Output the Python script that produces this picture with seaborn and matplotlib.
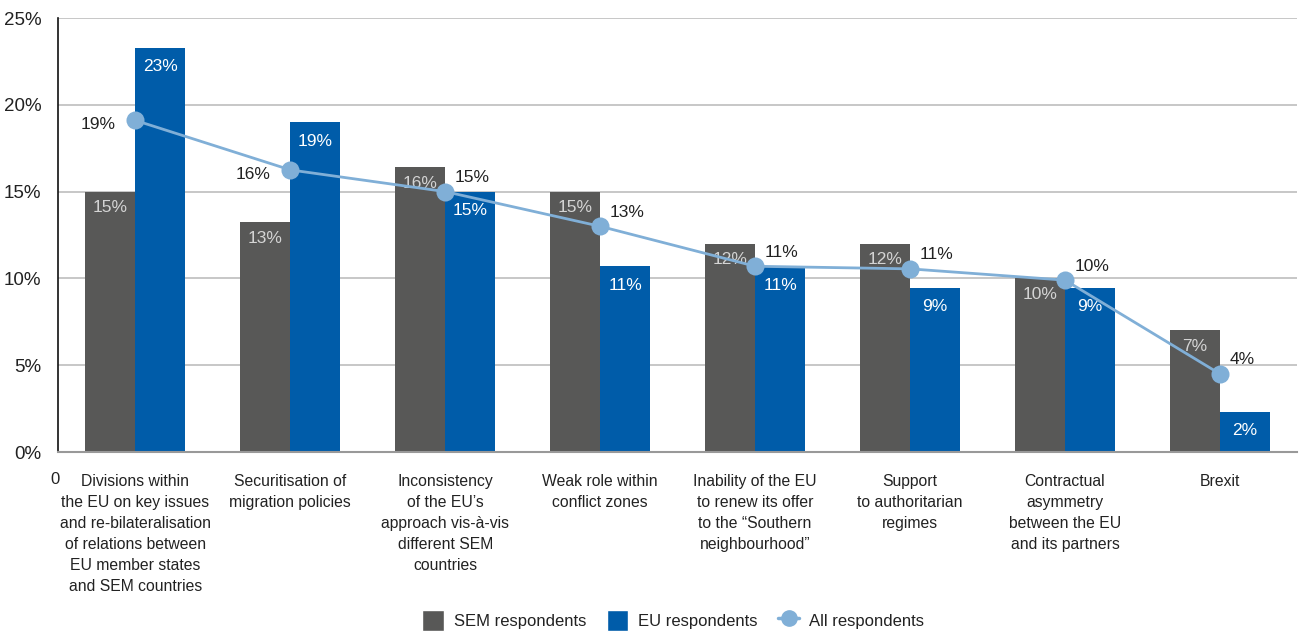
import numpy as np
import pandas as pd
import matplotlib.pyplot as plt
import seaborn as sns
from matplotlib.patches import Patch
from matplotlib.lines import Line2D

# data
categories = [
    "Divisions within\nthe EU on key issues\nand re-bilateralisation\nof relations between\nEU member states\nand SEM countries",
    "Securitisation of\nmigration policies",
    "Inconsistency\nof the EU\u2019s\napproach vis-\u00e0-vis\ndifferent SEM\ncountries",
    "Weak role within\nconflict zones",
    "Inability of the EU\nto renew its offer\nto the \u201cSouthern\nneighbourhood\u201d",
    "Support\nto authoritarian\nregimes",
    "Contractual\nasymmetry\nbetween the EU\nand its partners",
    "Brexit",
]
sem_values = [15.0, 13.25, 16.4, 15.0, 12.0, 12.0, 10.0, 7.0]
eu_values = [23.3, 19.0, 15.0, 10.7, 10.7, 9.45, 9.45, 2.3]
all_values = [19.1, 16.25, 15.0, 13.0, 10.7, 10.55, 9.9, 4.5]
sem_labels = ["15%", "13%", "16%", "15%", "12%", "12%", "10%", "7%"]
eu_labels = ["23%", "19%", "15%", "11%", "11%", "9%", "9%", "2%"]
all_labels = ["19%", "16%", "15%", "13%", "11%", "11%", "10%", "4%"]
y_ticks = [0, 5, 10, 15, 20, 25]

SEM_COLOR = "#585857"
EU_COLOR = "#005ca9"
ALL_COLOR = "#80afd7"
TEXT = "#222222"
FONT = ["Liberation Sans", "DejaVu Sans"]

sns.set_style("white")
plt.rcParams["font.family"] = FONT

df = pd.DataFrame({
    "cat": categories * 2,
    "value": sem_values + eu_values,
    "group": ["SEM respondents"] * 8 + ["EU respondents"] * 8,
})

fig = plt.figure(figsize=(13, 6.32), dpi=100)
ax = fig.add_axes([0.0446, 0.2848, 0.9534, 0.6867])

sns.barplot(data=df, x="cat", y="value", hue="group",
            palette=[SEM_COLOR, EU_COLOR], width=0.645, gap=0,
            saturation=1, legend=False, ax=ax, zorder=2, linewidth=0)

# bar value labels inside the top of each bar
ax.bar_label(ax.containers[0], labels=sem_labels, padding=-17,
             color="#d4d4d4", fontsize=12.5)
ax.bar_label(ax.containers[1], labels=eu_labels, padding=-19,
             color="white", fontsize=12.5)

# all respondents line
xs = np.arange(len(categories))
sns.lineplot(x=xs, y=all_values, color=ALL_COLOR, linewidth=2,
             marker="o", markersize=13, markeredgewidth=0, ax=ax, zorder=4)
for i, (v, lab) in enumerate(zip(all_values, all_labels)):
    if i < 2:
        ax.annotate(lab, (i, v), xytext=(-14, -3), textcoords="offset points",
                    ha="right", va="center", fontsize=12.5, color=TEXT, zorder=5)
    else:
        ax.annotate(lab, (i, v), xytext=(7, 10), textcoords="offset points",
                    ha="left", va="center", fontsize=12.5, color=TEXT, zorder=5)

ax.set_xlim(-0.5, len(categories) - 0.5)
ax.set_ylim(0, 25)
ax.set_yticks(y_ticks)
ax.set_yticklabels([f"{t}%" for t in y_ticks], fontsize=13.5, color=TEXT)
ax.yaxis.grid(True, color="#bdbdbd", linewidth=1.2, zorder=0)
ax.set_axisbelow(True)
ax.tick_params(axis="y", length=8, width=1, color="#888888", pad=4)

ax.set_xticks(xs)
ax.set_xticklabels(categories, fontsize=11.3, color=TEXT, linespacing=1.5, va="top")
ax.tick_params(axis="x", length=0, pad=16)
ax.set_xticks(np.arange(-0.5, len(categories), 1), minor=True)
ax.tick_params(axis="x", which="minor", length=7, width=1.2, color="#777777")
ax.set_xlabel("")
ax.set_ylabel("")

for s in ["top", "right"]:
    ax.spines[s].set_visible(False)
ax.spines["left"].set_color("#111111")
ax.spines["left"].set_linewidth(1.2)
ax.spines["bottom"].set_color("#999999")
ax.spines["bottom"].set_linewidth(1.5)

ax.annotate("0", xy=(-0.5, 0), xycoords=("data", "axes fraction"),
            xytext=(-2, -20), textcoords="offset points",
            ha="center", va="center", fontsize=12, color=TEXT)

handles = [
    Patch(facecolor=SEM_COLOR, label="SEM respondents"),
    Patch(facecolor=EU_COLOR, label="EU respondents"),
    Line2D([0], [0], color=ALL_COLOR, linewidth=2.5, marker="o",
           markersize=11, label="All respondents"),
]
fig.legend(handles=handles, loc="center", bbox_to_anchor=(0.518, 0.018),
           ncol=3, frameon=False, fontsize=12, handlelength=1.3,
           handleheight=1.5, columnspacing=1.2, handletextpad=0.6,
           labelcolor=TEXT)

fig.savefig("out.png", dpi=100)
